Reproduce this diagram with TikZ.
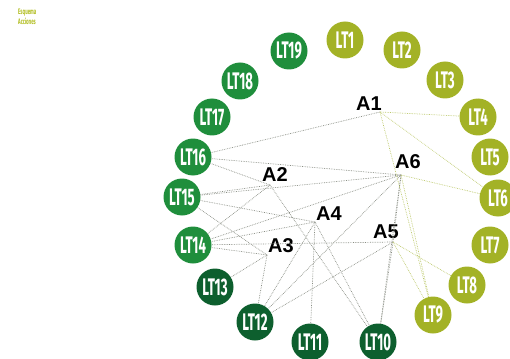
\documentclass[tikz,border=0pt]{standalone}
\usepackage{fontspec}
\setmainfont{Liberation Sans}
\newfontfamily\ltfont[FakeStretch=0.55]{Fira Sans}
\usetikzlibrary{positioning}
\definecolor{LtOlive}{HTML}{A3B226}
\definecolor{LtGreen}{HTML}{1F8E3C}
\definecolor{LtDark}{HTML}{0D5F2E}
\definecolor{LineGray}{HTML}{8A8E84}
\definecolor{LineOlive}{HTML}{BCC86A}

\tikzset{
  lt/.style={circle,inner sep=0pt,minimum size=37pt,text=white,font=\ltfont\bfseries\fontsize{24}{24}\selectfont},
  ltolive/.style={lt,fill=LtOlive},
  ltgreen/.style={lt,fill=LtGreen},
  ltdark/.style={lt,fill=LtDark},
  alabel/.style={inner sep=0pt,font=\bfseries\fontsize{20}{20}\selectfont},
  edgeg/.style={LineGray,densely dotted,line width=0.7pt},
  edgey/.style={LineOlive,densely dotted,line width=0.7pt}
}

\begin{document}
\begin{tikzpicture}[x=1pt,y=-1pt]
  \useasboundingbox (0,0) rectangle (510,358);
  \node[anchor=north west,align=left,inner sep=0pt,text=LtOlive!85!yellow,font=\ltfont\bfseries\fontsize{8}{9.5}\selectfont] (titulo) at (18,9) {Esquema\\Acciones};
  % lineas de tiempo
  \foreach \n/\x/\y in {1/345/40,2/402/50,3/445/80,4/478/117,5/490/157,6/498/198,7/490/245,8/467/285,9/433/315}
    \node[ltolive] (lt\n) at (\x,\y) {LT\n};
  \foreach \n/\x/\y in {10/378/342,11/310/342,12/255/322,13/215/287}
    \node[ltdark] (lt\n) at (\x,\y) {LT\n};
  \foreach \n/\x/\y in {14/193/245,15/182/197,16/193/157,17/212/117,18/240/81,19/289/51}
    \node[ltgreen] (lt\n) at (\x,\y) {LT\n};
  % acciones
  \coordinate (h1) at (380,112);
  \coordinate (h2) at (270,185);
  \coordinate (h3) at (267,255);
  \coordinate (h4) at (315,222);
  \coordinate (h5) at (393,242);
  \coordinate (h6) at (401,175);
  \node[alabel,above left=1pt and -2pt of h1] (a1) {A1};
  \node[alabel,above right=3pt and -8pt of h2] (a2) {A2};
  \node[alabel,above right=2pt and 1pt of h3] (a3) {A3};
  \node[alabel,above right=1pt and 1pt of h4] (a4) {A4};
  \node[alabel,above left=3pt and -6pt of h5] (a5) {A5};
  \node[alabel,above right=6pt and -6pt of h6] (a6) {A6};
  % conexiones
  \foreach \a/\b in {h1/lt16,h6/lt16,h6/lt15,h6/lt14,h6/lt12,h6/lt10,
      h2/lt16,h2/lt15,h2/lt14,h2/lt10,h4/lt15,h4/lt14,h4/lt12,h4/lt10,
      h3/lt15,h3/lt14,h3/lt13,h3/lt12,h5/lt14,h5/lt12,h5/lt10,h6/h5,h4/lt11}
    \draw[edgeg] (\a) -- (\b);
  \foreach \a/\b in {h1/lt4,h1/lt6,h1/lt9,h6/lt6,h6/lt9,h5/lt8,h5/lt9}
    \draw[edgey] (\a) -- (\b);
\end{tikzpicture}
\end{document}
